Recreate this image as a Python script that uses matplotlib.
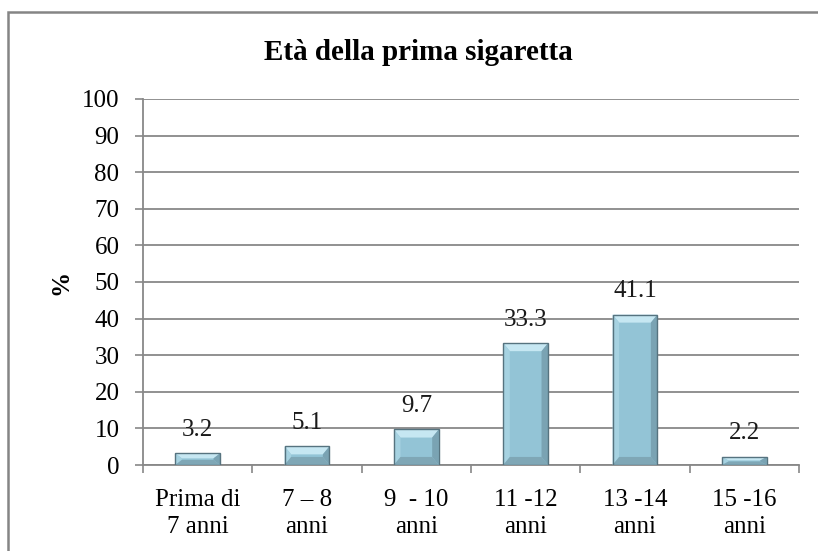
import matplotlib
matplotlib.use("Agg")
import matplotlib.pyplot as plt
from matplotlib.patches import Polygon, Rectangle
import numpy as np

categories = ["Prima di\n7 anni", "7 – 8\nanni", "9  - 10\nanni", "11 -12\nanni", "13 -14\nanni", "15 -16\nanni"]
values = [3.2, 5.1, 9.7, 33.3, 41.1, 2.2]
value_labels = ["3.2", "5.1", "9.7", "33.3", "41.1", "2.2"]
yticks = list(range(0, 101, 10))

plt.rcParams['font.family'] = ['Liberation Serif', 'DejaVu Serif']

fig = plt.figure(figsize=(8.18, 5.51), dpi=100)
W, H = 818, 551
ax = fig.add_axes([143 / W, 1 - 465 / H, (799 - 143) / W, (465 - 99) / H])

# outer chart border
fig.patches.append(Rectangle((8 / W, -0.1), 1.2, 1 - 12 / H + 0.1, transform=fig.transFigure,
                             fill=False, edgecolor='#858585', linewidth=1.8))

x = np.arange(len(categories))
bw = 0.41
ax.bar(x, values, width=bw, color='#93c4d6', edgecolor='none', zorder=3)

# bevel decorations
bx = 0.06
for xi, v in zip(x, values):
    by = min(2.2, v / 2.3)
    l, r = xi - bw / 2, xi + bw / 2
    ax.add_patch(Polygon([[l, v], [r, v], [r - bx, v - by], [l + bx, v - by]], closed=True,
                         facecolor='#c6e7f2', edgecolor='none', zorder=4))
    ax.add_patch(Polygon([[l, v], [l + bx, v - by], [l + bx, by], [l, 0]], closed=True,
                         facecolor='#a6d2e1', edgecolor='none', zorder=4))
    ax.add_patch(Polygon([[r, v], [r - bx, v - by], [r - bx, by], [r, 0]], closed=True,
                         facecolor='#7aa3b3', edgecolor='none', zorder=4))
    ax.add_patch(Polygon([[l, 0], [r, 0], [r - bx, by], [l + bx, by]], closed=True,
                         facecolor='#7fa7b6', edgecolor='none', zorder=4))
    ax.add_patch(Rectangle((l, 0), bw, v, fill=False, edgecolor='#56737f', linewidth=1.0, zorder=5))

for xi, v, lab in zip(x, values, value_labels):
    ax.annotate(lab, (xi, v), xytext=(0, 17), textcoords='offset points', ha='center', va='center',
                fontsize=18, color='#1a1a1a', zorder=6)

ax.set_xlim(-0.5, len(categories) - 0.5)
ax.set_ylim(0, 100)
ax.set_yticks(yticks)
ax.set_yticklabels([str(t) for t in yticks], fontsize=18)
ax.set_xticks(x)
ax.set_xticklabels(categories, fontsize=18, linespacing=1.3)
ax.set_xticks(np.arange(-0.5, len(categories), 1.0), minor=True)
ax.tick_params(axis='x', which='major', length=0, pad=17)
ax.tick_params(axis='x', which='minor', length=6, color='#888888', width=1.2)
ax.tick_params(axis='y', length=6, color='#888888', width=1.2, pad=11)
ax.grid(axis='y', color='#888888', linewidth=1.3, zorder=0)
ax.set_axisbelow(True)
for s in ['top', 'right']:
    ax.spines[s].set_visible(False)
for s in ['left', 'bottom']:
    ax.spines[s].set_color('#888888')
    ax.spines[s].set_linewidth(1.3)

ax.set_ylabel('%', fontsize=18, fontweight='bold')
ax.yaxis.set_label_coords(-0.108, 0.5)
fig.text(418 / W, 1 - 52 / H, 'Età della prima sigaretta', ha='center', va='center',
         fontsize=21, fontweight='bold')

fig.savefig('out.png', dpi=100)
